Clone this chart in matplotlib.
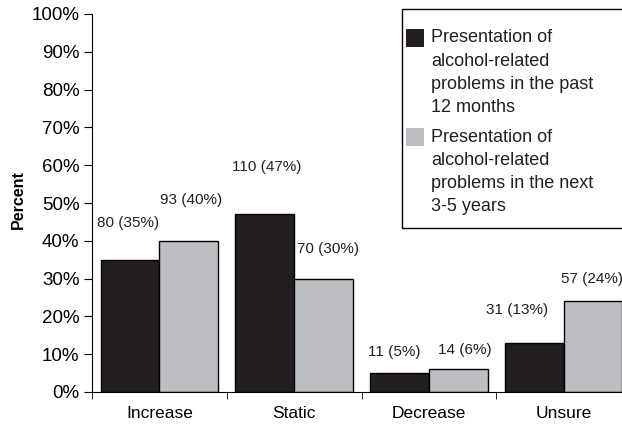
import numpy as np
import matplotlib.pyplot as plt
from matplotlib.patches import Rectangle

plt.rcParams['font.family'] = ['Liberation Sans', 'DejaVu Sans']

categories = ['Increase', 'Static', 'Decrease', 'Unsure']
past_12_months = [35, 47, 5, 13]
next_3_5_years = [40, 30, 6, 24]
past_labels = ['80 (35%)', '110 (47%)', '11 (5%)', '31 (13%)']
next_labels = ['93 (40%)', '70 (30%)', '14 (6%)', '57 (24%)']
# label positions as they sit in the original (y in percent, x offset from bar centre)
past_label_y = [44.8, 59.6, 10.7, 21.8]
next_label_y = [50.9, 37.9, 11.2, 30.0]
past_label_dx = [-0.015, 0.017, -0.04, -0.127]
next_label_dx = [0.017, 0.034, 0.05, -0.006]
legend_names = ['Presentation of\nalcohol-related\nproblems in the past\n12 months',
                'Presentation of\nalcohol-related\nproblems in the next\n3-5 years']

dark = '#231f20'
light = '#bcbec2'
w = 0.436
W, H = 622, 424

fig = plt.figure(figsize=(W/100, H/100), dpi=100)
ax = fig.add_axes([92/W, 32/H, 539/W, 378/H])

x = np.arange(len(categories))
ax.bar(x - w/2, past_12_months, w, color=dark, edgecolor='black', linewidth=1)
ax.bar(x + w/2, next_3_5_years, w, color=light, edgecolor='black', linewidth=1)

for i in range(len(categories)):
    ax.text(x[i] - w/2 + past_label_dx[i], past_label_y[i], past_labels[i],
            ha='center', va='center', fontsize=11, color=dark)
    ax.text(x[i] + w/2 + next_label_dx[i], next_label_y[i], next_labels[i],
            ha='center', va='center', fontsize=11, color=dark)

ax.set_xlim(-0.5, 3.5)
ax.set_ylim(0, 100)
ax.set_yticks(np.arange(0, 101, 10))
ax.set_yticklabels([f'{v}%' for v in range(0, 101, 10)], fontsize=13.5)
ax.set_xticks(x)
ax.set_xticklabels(categories, fontsize=12.5)
ax.set_xticks(np.arange(-0.5, 3.5, 1), minor=True)
ax.tick_params(axis='x', which='major', length=0, pad=10)
ax.tick_params(axis='x', which='minor', length=5, direction='out')
ax.tick_params(axis='y', length=6, pad=3)
ax.spines['top'].set_visible(False)
ax.spines['right'].set_visible(False)
ax.set_ylabel('Percent', fontsize=11.5, fontweight='bold')
ax.yaxis.set_label_coords(-0.122, 0.509)

# legend box, running off the right edge as in the original
fig.patches.append(Rectangle((402/W, 1 - 228/H), 260/W, 219/H, transform=fig.transFigure,
                             facecolor='white', edgecolor='black', linewidth=1))
for top, colour, name in zip([29, 128], [dark, light], legend_names):
    fig.patches.append(Rectangle((406/W, 1 - (top + 18)/H), 18/W, 18/H,
                                 transform=fig.transFigure, facecolor=colour, edgecolor='none'))
    fig.text(431/W, 1 - (top + 0.5)/H, name, ha='left', va='top', fontsize=13,
             linespacing=1.47, color=dark)

fig.savefig('out.png', dpi=100)
